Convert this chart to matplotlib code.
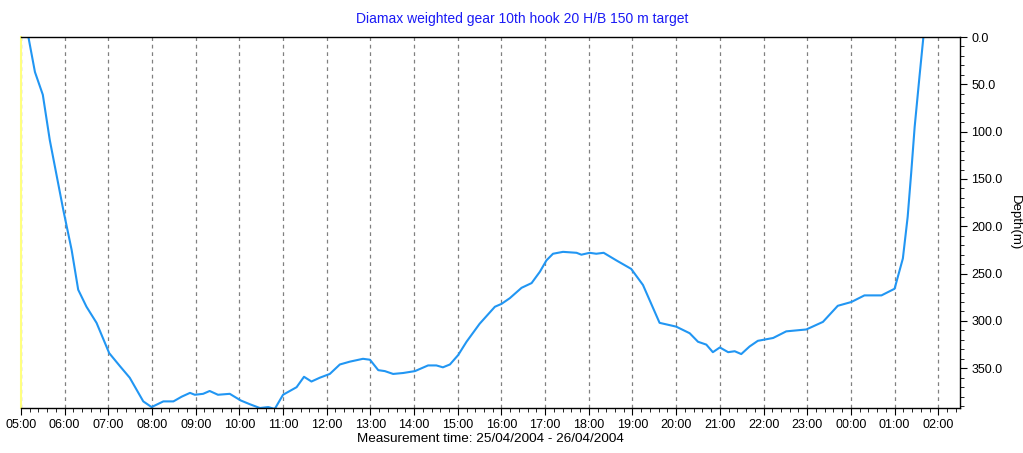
import numpy as np
import matplotlib
matplotlib.use("Agg")
import matplotlib.pyplot as plt
from matplotlib.ticker import MultipleLocator, FuncFormatter

plt.rcParams['font.family'] = ['Liberation Sans', 'DejaVu Sans']

# hours after 05:00 on 25/04/2004, and depth in metres
hours = [0.00, 0.17, 0.32, 0.50, 0.66, 0.97, 1.16, 1.31, 1.50, 1.73, 2.02, 2.27,
         2.49, 2.80, 2.99, 3.26, 3.49, 3.68, 3.87, 3.98, 4.17, 4.32, 4.51, 4.78,
         5.03, 5.24, 5.47, 5.66, 5.81, 6.00, 6.31, 6.48, 6.65, 6.84, 7.07, 7.30,
         7.53, 7.83, 7.99, 8.18, 8.33, 8.52, 8.75, 9.02, 9.32, 9.51, 9.66, 9.82,
         10.01, 10.20, 10.50, 10.85, 11.00, 11.19, 11.46, 11.69, 11.88, 12.03,
         12.18, 12.41, 12.72, 12.83, 13.02, 13.17, 13.34, 13.63, 13.97, 14.24,
         14.62, 15.00, 15.31, 15.50, 15.69, 15.84, 16.00, 16.19, 16.34, 16.49,
         16.68, 16.87, 17.22, 17.52, 17.98, 18.36, 18.70, 19.01, 19.31, 19.70,
         20.00, 20.19, 20.30, 20.38, 20.46, 20.57, 20.66]
depth = [0, 0, 37, 61, 109, 183, 225, 267, 285, 302, 334, 348,
         360, 385, 391, 385, 385, 380, 376, 378, 377, 374, 378, 377,
         384, 388, 392, 391, 393, 378, 370, 359, 364, 360, 356, 346,
         343, 340, 341, 352, 353, 356, 355, 353, 347, 347, 349, 346,
         336, 322, 303, 285, 282, 276, 265, 260, 248, 236,
         229, 227, 228, 230, 228, 229, 228, 236, 245, 262,
         302, 306, 313, 322, 325, 333, 328, 333, 332, 335,
         327, 321, 318, 311, 309, 301, 284, 280, 273, 273,
         266, 234, 190, 144, 95, 42, 0]

title = "Diamax weighted gear 10th hook 20 H/B 150 m target"
x_title = "Measurement time: 25/04/2004 - 26/04/2004"
y_title = "Depth(m)"

fig = plt.figure(figsize=(10.23, 4.53), dpi=100)
ax = fig.add_axes([0.0205, 0.0993, 0.918, 0.819])

ax.plot(hours, depth, color='#2196F3', lw=1.5)

ax.set_xlim(0, 21.5)
ax.set_ylim(392, 0)

def hour_label(v, pos):
    return "%02d:00" % ((5 + int(round(v))) % 24)

ax.xaxis.set_major_locator(MultipleLocator(1))
ax.xaxis.set_minor_locator(MultipleLocator(0.2))
ax.xaxis.set_major_formatter(FuncFormatter(hour_label))

ax.yaxis.tick_right()
ax.yaxis.set_label_position('right')
ax.yaxis.set_major_locator(MultipleLocator(50))
ax.yaxis.set_minor_locator(MultipleLocator(10))
ax.yaxis.set_major_formatter(FuncFormatter(lambda v, p: "%.1f" % v))

ax.tick_params(which='major', length=5, width=0.8, labelsize=9, pad=3)
ax.tick_params(which='minor', length=3, width=0.6)
ax.tick_params(axis='y', which='both', left=False, right=True)

ax.grid(axis='x', which='major', linestyle=(0, (3, 3)), color='#808080', lw=0.9)

for side in ['top', 'bottom', 'right']:
    ax.spines[side].set_color('black')
    ax.spines[side].set_linewidth(1.0)
ax.spines['left'].set_color('#FFFF80')
ax.spines['left'].set_linewidth(1.5)

fig.text(0.51, 0.958, title, color='#1a1af5', fontsize=10, ha='center', va='center')
ax.set_xlabel(x_title, fontsize=9.7, labelpad=1)
ax.set_ylabel(y_title, fontsize=9.5, rotation=270, va='center', ha='center')
ax.yaxis.set_label_coords(1.0586, 0.5)

fig.savefig("out.png", dpi=100)
